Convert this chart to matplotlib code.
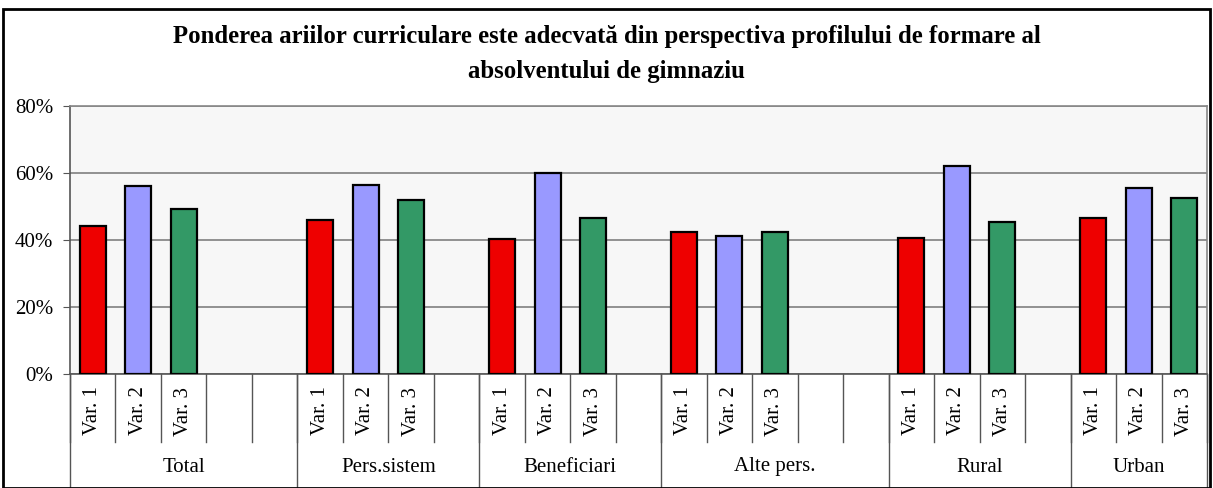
import matplotlib
matplotlib.use("Agg")
import matplotlib.pyplot as plt
import matplotlib.transforms as mtransforms
from matplotlib.patches import Rectangle
import numpy as np

# Datos
grupos = ["Total", "Pers.sistem", "Beneficiari", "Alte pers.", "Rural", "Urban"]
casillas = [5, 4, 4, 5, 4, 3]   # numero de categorias por grupo (las extra vacias)
variantes = ["Var. 1", "Var. 2", "Var. 3"]
var1 = [44.1, 45.9, 40.4, 42.3, 40.6, 46.6]
var2 = [56.0, 56.5, 60.1, 41.2, 62.0, 55.5]
var3 = [49.4, 51.8, 46.5, 42.3, 45.3, 52.4]
colores = ["#ee0000", "#9999ff", "#339966"]
titulo = ("Ponderea ariilor curriculare este adecvată din perspectiva profilului de formare al\n"
          "absolventului de gimnaziu")

plt.rcParams['font.family'] = ['Liberation Serif', 'DejaVu Serif']

fig = plt.figure(figsize=(12.13, 4.88), dpi=100)
W, H = 1213, 488
x0, x1, y0, y1 = 70, 1207, 106, 374
ax = fig.add_axes([x0 / W, 1 - y1 / H, (x1 - x0) / W, (y1 - y0) / H])
ax.set_facecolor("#f7f7f7")

inicio = np.concatenate([[0], np.cumsum(casillas)[:-1]])
total = sum(casillas)
series = [var1, var2, var3]
for k, vals in enumerate(series):
    xs = inicio + k + 0.5
    ax.bar(xs, vals, width=0.57, color=colores[k], edgecolor="black", linewidth=1.6, zorder=3)

ax.set_xlim(0, total)
ax.set_ylim(0, 80)
ax.set_yticks([0, 20, 40, 60, 80])
ax.set_yticklabels([f"{v}%" for v in [0, 20, 40, 60, 80]], fontsize=15)
ax.yaxis.grid(True, color="#808080", linewidth=1.2, zorder=1)
ax.tick_params(axis="y", length=5, color="#555555", pad=7)
ax.set_xticks([])
for s in ["top", "right"]:
    ax.spines[s].set_color("#888888")
    ax.spines[s].set_linewidth(1.2)
ax.spines["left"].set_color("#555555")
ax.spines["bottom"].set_color("#555555")
ax.spines["left"].set_linewidth(1.2)
ax.spines["bottom"].set_linewidth(1.2)

# Eje de categorias en dos niveles
trans = mtransforms.blended_transform_factory(ax.transData, ax.transAxes)
y_corto = (y1 - 442) / (y1 - y0)
y_largo = (y1 - H) / (y1 - y0)
for i in range(total + 1):
    ax.plot([i, i], [0, y_corto], transform=trans, color="#555555", lw=1, clip_on=False)
for b in list(inicio) + [total]:
    ax.plot([b, b], [0, y_largo], transform=trans, color="#555555", lw=1, clip_on=False)
for g, nombre in enumerate(grupos):
    for k, v in enumerate(variantes):
        ax.text(inicio[g] + k + 0.5, (y1 - 411) / (y1 - y0), v, transform=trans,
                rotation=90, ha="center", va="center", fontsize=15)
    ax.text(inicio[g] + casillas[g] / 2, (y1 - 467) / (y1 - y0), nombre, transform=trans,
            ha="center", va="center", fontsize=15)

fig.text(0.5, 1 - 54 / H, titulo, ha="center", va="center", fontsize=17.8,
         fontweight="bold", linespacing=1.62)

fig.patches.append(Rectangle((3 / W, 0), (W - 6) / W, 1 - 9 / H, transform=fig.transFigure,
                             fill=False, edgecolor="black", linewidth=2))

fig.savefig("out.png", dpi=100)
